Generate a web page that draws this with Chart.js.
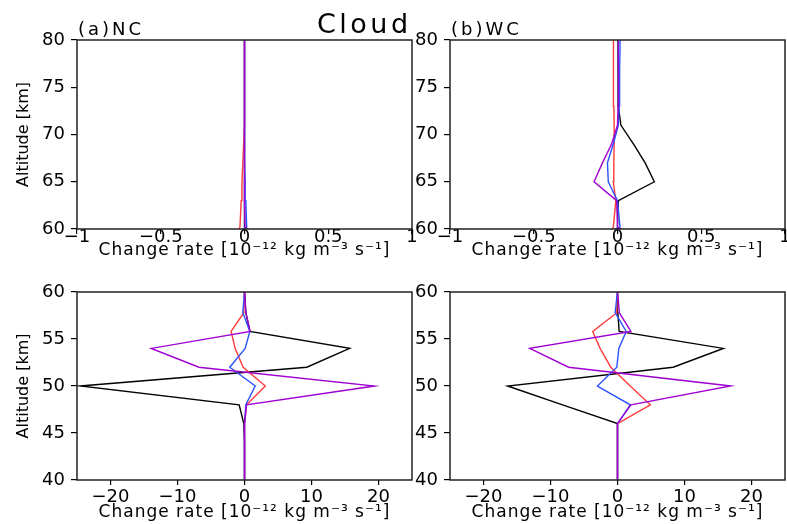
<!DOCTYPE html>
<html>
<head>
<meta charset="utf-8">
<script src="https://cdn.jsdelivr.net/npm/chart.js@4.4.1/dist/chart.umd.min.js"></script>
<style>
  html, body { margin: 0; padding: 0; background: #fff; }
  #wrap { position: relative; width: 787px; height: 524px; }
  #wrap canvas { position: absolute; left: 0; top: 0; }
</style>
</head>
<body>
<div id="wrap">
  <canvas id="ncUpper" width="787" height="524"></canvas>
  <canvas id="wcUpper" width="787" height="524"></canvas>
  <canvas id="ncLower" width="787" height="524"></canvas>
  <canvas id="wcLower" width="787" height="524"></canvas>
</div>
<script>
// Model levels (km) shared by every profile
const altitude = [40, 42, 44, 46, 48, 50, 52, 54, 55.8, 57.8, 60.2, 63, 65, 67, 69, 71, 73, 75, 77, 79, 81];

// Change rate profiles, 10^-12 kg m^-3 s^-1 -- (a) NC
const ncBlack  = [0, 0, 0, -0.1, -0.8, -24.5, 9.3, 15.7, 0.8, 0.2, 0, 0, 0, 0, 0, 0, 0, 0, 0, 0, 0];
const ncRed    = [0, 0, 0, 0.05, 0.3, 3.1, -0.2, -1.4, -2.0, -0.1, -0.027, -0.02, -0.015, -0.01, -0.005, 0, 0, 0, 0, 0, 0];
const ncBlue   = [0, 0, 0, 0, 0.2, 1.6, -2.2, 0.1, 0.8, -0.25, 0.013, 0.008, 0.004, 0, 0, 0, 0, 0, 0, 0, 0];
const ncPurple = [0, 0, 0, 0, 0.3, 19.4, -6.8, -13.9, 0.85, 0.2, 0.003, 0, 0, 0, 0, 0, 0, 0, 0, 0, 0];

// (b) WC
const wcBlack  = [0, 0, 0, 0, -8.2, -16.4, 8.3, 15.8, 0.25, 0.05, 0, 0.005, 0.22, 0.165, 0.095, 0.02, 0.005, 0.004, 0.003, 0.003, 0.003];
const wcRed    = [0, 0, 0, 0, 4.9, 1.9, -1.0, -2.6, -3.7, -0.1, -0.025, -0.01, -0.025, -0.022, -0.02, -0.02, -0.022, -0.023, -0.024, -0.025, -0.025];
const wcBlue   = [0, 0, 0, 0, 1.9, -3.0, -0.1, 0.2, 1.3, -0.35, 0.015, 0, -0.055, -0.06, -0.025, 0.005, 0.01, 0.012, 0.013, 0.015, 0.015];
const wcPurple = [0, 0, 0, 0, 2.0, 16.9, -7.3, -13.1, 2.0, 0.27, 0, -0.005, -0.14, -0.09, -0.035, 0, 0.003, 0.005, 0.005, 0.005, 0.005];

// Axis ranges and tick values
const upperX = [-1, 1], upperXTicks = [-1, -0.5, 0, 0.5, 1];
const lowerX = [-25, 25], lowerXTicks = [-20, -10, 0, 10, 20];
const upperAlt = [60, 80], upperAltTicks = [60, 65, 70, 75, 80];
const lowerAlt = [40, 60], lowerAltTicks = [40, 45, 50, 55, 60];

const xTitle = 'Change rate [10\u207B\u00B9\u00B2 kg m\u207B\u00B3 s\u207B\u00B9]';
const FONT = '"DejaVu Sans", sans-serif';

Chart.defaults.font.family = FONT;
Chart.defaults.color = '#000';

const colors = { black: '#000000', red: '#ff3b3b', blue: '#2a52ff', purple: '#a000d2' };

function profile(values) {
    return values.map((v, i) => ({ x: v, y: altitude[i] }));
}

function minusSign(v) {
    return (v < 0 ? '\u2212' : '') + Math.abs(v);
}

function fixedTicks(values) {
    return s => { s.ticks = values.map(v => ({ value: v })); };
}

// frame, panel labels and the x axis title
const panelText = {
    id: 'panelText',
    afterDraw(chart, args, opts) {
        const { ctx, chartArea: a } = chart;
        ctx.save();
        ctx.strokeStyle = '#222';
        ctx.lineWidth = 1.5;
        ctx.strokeRect(a.left, a.top, a.right - a.left, a.bottom - a.top);

        ctx.fillStyle = '#000';
        ctx.textBaseline = 'alphabetic';
        ctx.textAlign = 'left';
        if (opts.label) {
            ctx.font = '18px ' + FONT;
            ctx.letterSpacing = '3px';
            ctx.fillText(opts.label, a.left + 1, a.top - 5.5);
        }
        if (opts.heading) {
            ctx.font = '27px ' + FONT;
            ctx.letterSpacing = '3.5px';
            ctx.fillText(opts.heading, 317, 33);
        }
        ctx.font = '17px ' + FONT;
        ctx.letterSpacing = '1px';
        ctx.textAlign = 'center';
        ctx.fillText(xTitle, (a.left + a.right) / 2, a.bottom + opts.titleOffset);
        ctx.restore();
    }
};

function makePanel(id, p) {
    const datasets = [
        { label: 'purple', data: profile(p.series[3]), borderColor: colors.purple },
        { label: 'blue', data: profile(p.series[2]), borderColor: colors.blue },
        { label: 'red', data: profile(p.series[1]), borderColor: colors.red },
        { label: 'black', data: profile(p.series[0]), borderColor: colors.black }
    ].map(d => Object.assign(d, { borderWidth: 1.4, pointRadius: 0, tension: 0, fill: false, clip: 0 }));

    return new Chart(document.getElementById(id), {
        type: 'line',
        data: { datasets },
        plugins: [panelText],
        options: {
            responsive: false,
            animation: false,
            indexAxis: 'y',
            layout: { autoPadding: false, padding: p.pad },
            plugins: {
                legend: { display: false },
                tooltip: { enabled: false },
                panelText: { label: p.label, heading: p.heading, titleOffset: p.titleOffset }
            },
            scales: {
                x: {
                    type: 'linear',
                    position: 'bottom',
                    min: p.xRange[0],
                    max: p.xRange[1],
                    afterFit: s => { s.height = 40; },
                    afterBuildTicks: fixedTicks(p.xTicks),
                    border: { display: false },
                    grid: { drawOnChartArea: false, drawTicks: true, tickLength: 5, color: '#000', lineWidth: 1.2 },
                    ticks: {
                        autoSkip: false,
                        maxRotation: 0,
                        padding: p.tickPad,
                        font: { size: 18, lineHeight: 1 },
                        callback: minusSign
                    }
                },
                y: {
                    type: 'linear',
                    position: 'left',
                    min: p.yRange[0],
                    max: p.yRange[1],
                    afterFit: s => { s.width = 77; },
                    afterBuildTicks: fixedTicks(p.yTicks),
                    border: { display: false },
                    grid: { drawOnChartArea: false, drawTicks: true, tickLength: 6, color: '#000', lineWidth: 1.2 },
                    ticks: {
                        autoSkip: false,
                        padding: 6,
                        font: { size: 18, lineHeight: 1 },
                        callback: minusSign
                    },
                    title: {
                        display: p.yTitle,
                        text: 'Altitude [km]',
                        font: { size: 16 },
                        padding: { top: 14, bottom: 0 }
                    }
                }
            }
        }
    });
}

makePanel('ncUpper', {
    series: [ncBlack, ncRed, ncBlue, ncPurple],
    xRange: upperX, xTicks: upperXTicks, yRange: upperAlt, yTicks: upperAltTicks,
    pad: { left: 0, right: 375, top: 40, bottom: 255 },
    label: '(a)NC', heading: 'Cloud', yTitle: true, tickPad: -6, titleOffset: 26
});
makePanel('wcUpper', {
    series: [wcBlack, wcRed, wcBlue, wcPurple],
    xRange: upperX, xTicks: upperXTicks, yRange: upperAlt, yTicks: upperAltTicks,
    pad: { left: 373, right: 2, top: 40, bottom: 255 },
    label: '(b)WC', yTitle: false, tickPad: -6, titleOffset: 26
});
makePanel('ncLower', {
    series: [ncBlack, ncRed, ncBlue, ncPurple],
    xRange: lowerX, xTicks: lowerXTicks, yRange: lowerAlt, yTicks: lowerAltTicks,
    pad: { left: 0, right: 375, top: 292, bottom: 4 },
    yTitle: true, tickPad: 3.5, titleOffset: 36.5
});
makePanel('wcLower', {
    series: [wcBlack, wcRed, wcBlue, wcPurple],
    xRange: lowerX, xTicks: lowerXTicks, yRange: lowerAlt, yTicks: lowerAltTicks,
    pad: { left: 373, right: 2, top: 292, bottom: 4 },
    yTitle: false, tickPad: 3.5, titleOffset: 36.5
});
</script>
</body>
</html>
